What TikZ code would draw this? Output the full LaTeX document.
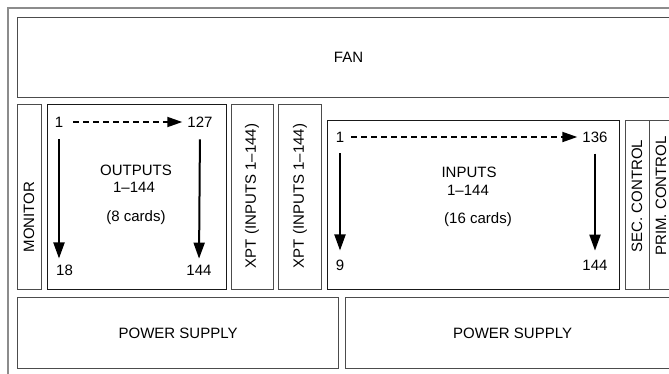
\documentclass[tikz,border=0pt]{standalone}
\usepackage{fontspec}
\setmainfont{Liberation Sans}
\usetikzlibrary{arrows.meta, positioning}

\begin{document}
\begin{tikzpicture}[
    x=1pt, y=-1pt,
    font=\fontsize{15}{17}\selectfont,
    frame/.style={draw=black!45, line width=1.3pt},
    unit/.style={rectangle, draw=black!70, line width=1.1pt, anchor=north west, inner sep=0pt},
    cage/.style={unit, draw=black!90, line width=1.3pt},
    vlabel/.style={rotate=90, inner sep=0pt},
    num/.style={inner sep=1pt},
    flow/.style={-{Triangle[length=16pt, width=11pt]}, line width=2pt},
    scan/.style={-{Triangle[length=15pt, width=10pt]}, line width=1.8pt, dash pattern=on 6pt off 4pt}
]
\useasboundingbox (0,0) rectangle (669,373);
\clip (0,0) rectangle (669,373);

% Chassis
\draw[frame] (8,8) rectangle (690,400);

\node[unit, minimum width=662pt, minimum height=80pt] (fan) at (17,17) {};
\node at (fan.center) (fantext) {FAN};

% Card row
\node[unit, minimum width=24pt, minimum height=185pt] (monitor) at (17,104) {};
\node[cage, minimum width=179pt, minimum height=185pt] (outputs) at (47,104) {};
\node[unit, minimum width=42pt, minimum height=185pt] (xpta) at (231,104) {};
\node[unit, minimum width=43pt, minimum height=185pt] (xptb) at (278,104) {};
\node[cage, minimum width=292pt, minimum height=169pt] (inputs) at (327,120) {};
\node[unit, minimum width=24pt, minimum height=169pt] (sec) at (625,120) {};
\node[unit, minimum width=24pt, minimum height=169pt] (prim) at (649,120) {};

\node[vlabel] (monitortext) at (29,217) {MONITOR};
\node[vlabel] (xptatext) at (252,196) {XPT (INPUTS 1–144)};
\node[vlabel] (xptbtext) at (300,196) {XPT (INPUTS 1–144)};
\node[vlabel] (sectext) at (637,196) {SEC. CONTROL};
\node[vlabel] (primtext) at (661,196) {PRIM. CONTROL};

% Outputs
\node[num] (out1) at (59,122) {1};
\node[num] (out127) at (200,122) {127};
\node[num, anchor=west] (out18) at (55,270) {18};
\node[num] (out144) at (199,270) {144};
\node (outtitle) at (136,170) {OUTPUTS};
\node (outrange) at (134,187) {1–144};
\node (outcards) at (136,218) {(8 cards)};

\draw[scan, shorten <=9pt, shorten >=4pt] (out1) -- (out127);
\draw[flow, shorten <=11pt, shorten >=5pt] (out1.south) -- (out1.south |- out18.north);
\draw[flow, shorten <=11pt, shorten >=5pt] (out127.south) -- (out144.north);

% Inputs
\node[num] (in1) at (340,137) {1};
\node[num] (in136) at (595,137) {136};
\node[num] (in9) at (340,265) {9};
\node[num] (in144) at (595,265) {144};
\node (intitle) at (469,172) {INPUTS};
\node (inrange) at (468,190) {1–144};
\node (incards) at (478,220) {(16 cards)};

\draw[scan, shorten <=6pt, shorten >=4pt] (in1) -- (in136);
\draw[flow, shorten <=10pt, shorten >=8pt] (in1.south) -- (in9.north);
\draw[flow, shorten <=10pt, shorten >=8pt] (in136.south) -- (in144.north);

% Power
\node[unit, minimum width=321pt, minimum height=71pt] (psa) at (17,297) {};
\node[unit, minimum width=334pt, minimum height=71pt] (psb) at (345,297) {};
\node at (psa.center) (psatext) {POWER SUPPLY};
\node at (psb.center) (psbtext) {POWER SUPPLY};

\end{tikzpicture}
\end{document}
